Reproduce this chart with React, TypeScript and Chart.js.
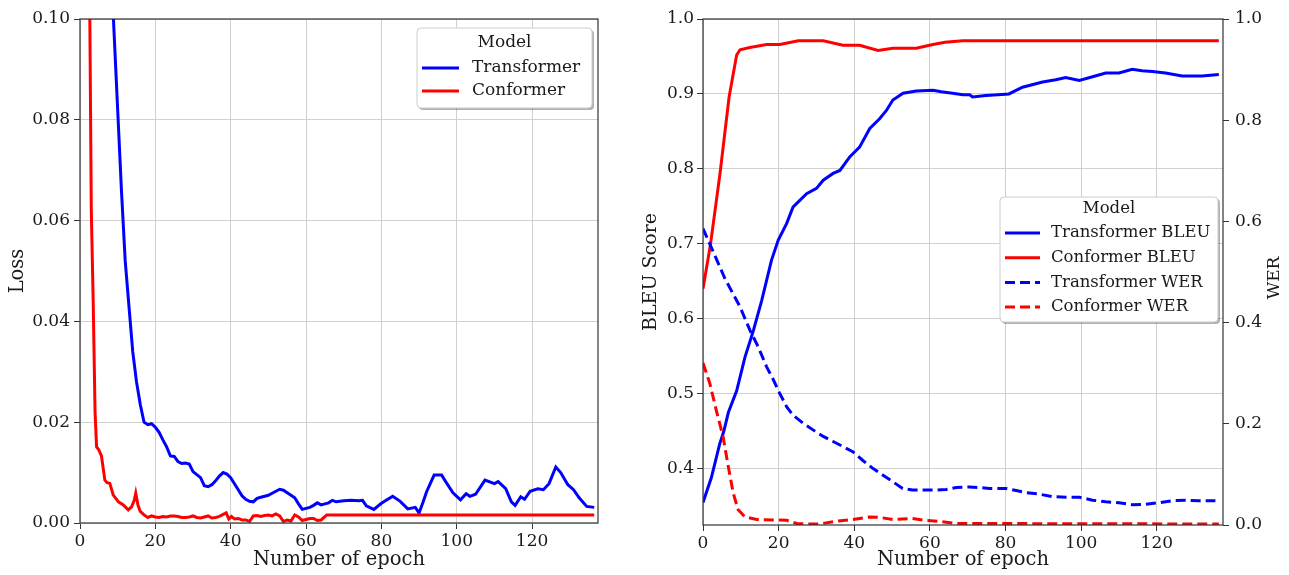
import React, { useEffect, useRef } from "react";
import { Chart, registerables } from "chart.js";

Chart.register(...registerables);

const FONT = "'DejaVu Serif', 'Liberation Serif', serif";

// ---------- Left chart: training loss ----------
const tfLossEpochs = [8, 9, 10, 11, 12, 13, 14, 15, 16, 17, 18, 19, 20, 21, 22, 23, 24, 25, 26, 27, 28, 29, 30, 31, 32, 33, 34, 35, 36, 37, 38, 39, 40, 41, 42, 43, 44, 45, 46, 47, 48, 50, 51, 52, 53, 54, 55, 56, 57, 58, 59, 60, 61, 62, 63, 64, 65, 66, 67, 68, 70, 72, 74, 75, 76, 78, 80, 83, 85, 87, 89, 90, 91, 92, 94, 96, 97.5, 99, 101, 102.5, 103.5, 105, 107.5, 110, 111, 113, 114.5, 115.5, 117, 118, 119.5, 121.5, 123, 124.5, 126.3, 127.6, 129.5, 131, 132.5, 134.5, 136.5];
const tfLoss = [0.115, 0.098, 0.082, 0.066, 0.052, 0.043, 0.034, 0.028, 0.0235, 0.02, 0.0195, 0.0197, 0.019, 0.018, 0.0165, 0.0151, 0.0133, 0.0132, 0.0122, 0.0118, 0.0119, 0.0117, 0.0102, 0.0096, 0.009, 0.0074, 0.0072, 0.0076, 0.0084, 0.0093, 0.01, 0.0097, 0.009, 0.0078, 0.0066, 0.0054, 0.0047, 0.0043, 0.0042, 0.0049, 0.0051, 0.0055, 0.0059, 0.0063, 0.0067, 0.0065, 0.006, 0.0055, 0.005, 0.0038, 0.0027, 0.0029, 0.0031, 0.0035, 0.004, 0.0036, 0.0038, 0.004, 0.0045, 0.0042, 0.0044, 0.0045, 0.0044, 0.0045, 0.0034, 0.0027, 0.0039, 0.0053, 0.0043, 0.0028, 0.0031, 0.002, 0.004, 0.0062, 0.0095, 0.0095, 0.0077, 0.006, 0.0046, 0.0058, 0.0053, 0.0057, 0.0085, 0.0078, 0.0082, 0.0068, 0.0042, 0.0035, 0.0052, 0.0047, 0.0063, 0.0068, 0.0066, 0.0078, 0.0111, 0.01, 0.0076, 0.0066, 0.005, 0.0033, 0.0031];

const cfLossEpochs = [1, 2, 3, 3.5, 4, 4.4, 5, 5.7, 6.6, 7.2, 7.9, 8.8, 10.2, 11.5, 12.8, 13.7, 14.4, 14.8, 15.4, 16, 17, 18, 19, 20, 21, 22, 23, 24, 25, 26, 27, 28, 29, 30, 31, 32, 33, 34, 35, 36, 37, 38.8, 39.5, 40.2, 41, 42, 43, 44, 45, 46, 47, 48, 49, 50, 51, 52, 53, 54, 55, 56, 57, 58, 59, 60, 61, 62, 63, 64, 65.5, 136.5];
const cfLoss = [0.35, 0.16, 0.062, 0.044, 0.022, 0.0151, 0.0145, 0.0133, 0.0085, 0.008, 0.0079, 0.0056, 0.0042, 0.0036, 0.0026, 0.0032, 0.0045, 0.0059, 0.0035, 0.0023, 0.0016, 0.0011, 0.0014, 0.0012, 0.0011, 0.0013, 0.0012, 0.0014, 0.0014, 0.0013, 0.0011, 0.0011, 0.0012, 0.0014, 0.0011, 0.001, 0.0012, 0.0014, 0.001, 0.0011, 0.0013, 0.002, 0.0008, 0.0013, 0.0008, 0.0009, 0.0006, 0.0006, 0.0003, 0.0014, 0.0015, 0.0013, 0.0015, 0.0016, 0.0014, 0.0018, 0.0014, 0.0003, 0.0006, 0.0004, 0.0016, 0.0012, 0.0005, 0.0007, 0.0009, 0.0009, 0.0005, 0.0006, 0.0016, 0.0016];

// ---------- Right chart: BLEU and WER ----------
const tfBleuEpochs = [0, 2.2, 4.4, 5.5, 6.7, 8.9, 11.1, 13.3, 15.5, 18.1, 19.9, 22.1, 23.8, 25.6, 27.4, 30, 31.8, 34.4, 36.2, 38.8, 41.4, 44.1, 46.7, 48.5, 50.2, 52.9, 56.4, 60.8, 63, 66, 68.7, 70.5, 71.3, 74.8, 78, 80.9, 84.5, 89.8, 93.3, 95.9, 99.5, 103, 106.5, 110, 113.5, 116.1, 118.8, 122.3, 126.7, 132, 136.4];
const tfBleu = [0.355, 0.388, 0.433, 0.45, 0.475, 0.504, 0.549, 0.584, 0.624, 0.678, 0.705, 0.727, 0.749, 0.758, 0.767, 0.774, 0.785, 0.794, 0.798, 0.816, 0.829, 0.854, 0.867, 0.878, 0.892, 0.901, 0.904, 0.905, 0.903, 0.901, 0.899, 0.899, 0.896, 0.898, 0.899, 0.9, 0.909, 0.916, 0.919, 0.922, 0.918, 0.923, 0.928, 0.928, 0.933, 0.931, 0.93, 0.928, 0.924, 0.924, 0.926];

const cfBleuEpochs = [0, 2, 4.5, 6.9, 8.9, 9.8, 12.4, 16.8, 20.3, 25.2, 31.8, 37, 41.4, 46.3, 50.2, 56.4, 60.8, 64, 68.7, 136.4];
const cfBleu = [0.64, 0.7, 0.794, 0.896, 0.952, 0.959, 0.962, 0.966, 0.966, 0.971, 0.971, 0.965, 0.965, 0.958, 0.961, 0.961, 0.966, 0.969, 0.971, 0.971];

const tfWerEpochs = [0, 5.8, 9.8, 12.4, 14.6, 16.8, 18.6, 20.3, 22.1, 23.8, 26.5, 29.1, 31.8, 34.4, 37, 39.6, 42.2, 44.9, 47.5, 50.1, 52.8, 55.4, 60.8, 64.3, 67, 70.4, 73.1, 75.7, 80.1, 82.8, 85.4, 88.9, 92.4, 96, 99.5, 103, 106.5, 110, 113.5, 117.1, 120.6, 124.1, 127.6, 131.1, 135.5];
const tfWer = [0.586, 0.487, 0.431, 0.385, 0.352, 0.313, 0.287, 0.26, 0.234, 0.217, 0.201, 0.188, 0.175, 0.165, 0.155, 0.145, 0.128, 0.112, 0.099, 0.086, 0.072, 0.069, 0.069, 0.07, 0.074, 0.075, 0.074, 0.072, 0.072, 0.068, 0.064, 0.061, 0.056, 0.055, 0.055, 0.049, 0.046, 0.044, 0.04, 0.041, 0.044, 0.048, 0.049, 0.048, 0.048];

const cfWerEpochs = [0, 1.8, 3.5, 5.3, 6.7, 8, 9.3, 11.1, 14.2, 18.6, 22.1, 24.8, 27.4, 30.9, 34.4, 39.6, 44, 46.7, 50.2, 55.4, 59, 62.5, 67, 136.4];
const cfWer = [0.32, 0.28, 0.227, 0.175, 0.115, 0.063, 0.03, 0.016, 0.011, 0.01, 0.0092, 0.003, 0.002, 0.002, 0.0066, 0.011, 0.016, 0.015, 0.011, 0.013, 0.009, 0.007, 0.003, 0.002];

// ---------- Ticks and labels ----------
const epochTicks = [0, 20, 40, 60, 80, 100, 120];
const lossTicks = [0, 0.02, 0.04, 0.06, 0.08, 0.1];
const bleuTicks = [0.4, 0.5, 0.6, 0.7, 0.8, 0.9, 1.0];
const werTicks = [0, 0.2, 0.4, 0.6, 0.8, 1.0];
const lossLabels = ["Transformer", "Conformer"];
const scoreLabels = ["Transformer BLEU", "Conformer BLEU", "Transformer WER", "Conformer WER"];

const BLUE = "#0000ff";
const RED = "#ff0000";
const GRID = "#d0d0d0";
const INK = "#1a1a1a";

function pts(xs: number[], ys: number[]) {
  return xs.map((x, i) => ({ x, y: ys[i] }));
}

const framePlugin = {
  id: "frame",
  afterDatasetsDraw(chart: any) {
    const { ctx, chartArea } = chart;
    const { left, top, right, bottom } = chartArea;
    ctx.save();
    ctx.strokeStyle = "#333";
    ctx.lineWidth = 1.2;
    ctx.strokeRect(left, top, right - left, bottom - top);
    ctx.restore();
  },
};

function roundRectPath(ctx: CanvasRenderingContext2D, x: number, y: number, w: number, h: number, r: number) {
  ctx.beginPath();
  ctx.moveTo(x + r, y);
  ctx.lineTo(x + w - r, y);
  ctx.arcTo(x + w, y, x + w, y + r, r);
  ctx.lineTo(x + w, y + h - r);
  ctx.arcTo(x + w, y + h, x + w - r, y + h, r);
  ctx.lineTo(x + r, y + h);
  ctx.arcTo(x, y + h, x, y + h - r, r);
  ctx.lineTo(x, y + r);
  ctx.arcTo(x, y, x + r, y, r);
  ctx.closePath();
}

const boxLegendPlugin = {
  id: "boxLegend",
  afterDraw(chart: any, _args: any, opts: any) {
    if (!opts || !opts.display) return;
    const { ctx, chartArea } = chart;
    const w = opts.width;
    const h = opts.height;
    const x = chartArea.right - opts.right - w;
    const y = chartArea.top + opts.top;
    ctx.save();
    roundRectPath(ctx, x + 2, y + 2, w, h, 4);
    ctx.fillStyle = "rgba(0,0,0,0.3)";
    ctx.fill();
    roundRectPath(ctx, x, y, w, h, 4);
    ctx.fillStyle = "#ffffff";
    ctx.fill();
    ctx.strokeStyle = "#cccccc";
    ctx.lineWidth = 1;
    ctx.stroke();
    ctx.font = `${opts.fontSize}px ${FONT}`;
    ctx.fillStyle = INK;
    ctx.textBaseline = "middle";
    ctx.textAlign = "center";
    ctx.fillText(opts.title, x + w / 2, y + opts.titleY);
    ctx.textAlign = "left";
    chart.data.datasets.forEach((ds: any, i: number) => {
      const ry = y + opts.firstRow + i * opts.rowGap;
      ctx.strokeStyle = ds.borderColor;
      ctx.lineWidth = ds.borderWidth;
      ctx.setLineDash(ds.borderDash || []);
      ctx.beginPath();
      ctx.moveTo(x + opts.swatchX, ry);
      ctx.lineTo(x + opts.swatchX + opts.swatchLen, ry);
      ctx.stroke();
      ctx.setLineDash([]);
      ctx.fillStyle = INK;
      ctx.fillText(ds.label, x + opts.textX, ry);
    });
    ctx.restore();
  },
};

const sideTitlePlugin = {
  id: "sideTitle",
  afterDraw(chart: any, _args: any, opts: any) {
    if (!opts || !opts.text) return;
    const { ctx, chartArea } = chart;
    ctx.save();
    ctx.translate(chartArea.right + opts.offset, (chartArea.top + chartArea.bottom) / 2 + opts.dy);
    ctx.rotate(-Math.PI / 2);
    ctx.font = `${opts.fontSize}px ${FONT}`;
    ctx.fillStyle = INK;
    ctx.textAlign = "center";
    ctx.textBaseline = "middle";
    ctx.fillText(opts.text, 0, 0);
    ctx.restore();
  },
};

function fixedTicks(values: number[]) {
  return (scale: any) => {
    scale.ticks = values.map((v) => ({ value: v }));
  };
}

function xAxis(height: number) {
  return {
    type: "linear" as const,
    min: 0,
    max: 137.5,
    afterBuildTicks: fixedTicks(epochTicks),
    afterFit: (s: any) => {
      s.height = height;
    },
    border: { display: false },
    grid: { color: GRID, lineWidth: 1, tickColor: "#333", tickLength: 6 },
    ticks: {
      font: { family: FONT, size: 17 },
      color: INK,
      padding: 2,
      maxRotation: 0,
      autoSkip: false,
      callback: (v: any) => String(v),
    },
    title: {
      display: true,
      text: "Number of epoch",
      font: { family: FONT, size: 19.5 },
      color: INK,
      padding: { top: 0, bottom: 3 },
    },
  };
}

function lineDs(label: string, data: any[], color: string, dashed: boolean, order: number, yAxisID = "y") {
  return {
    label,
    data,
    borderColor: color,
    backgroundColor: color,
    borderWidth: 3,
    borderDash: dashed ? [10, 5] : [],
    pointRadius: 0,
    tension: 0,
    fill: false,
    clip: 0,
    order,
    yAxisID,
  };
}

function LossChart() {
  const ref = useRef<HTMLCanvasElement | null>(null);
  useEffect(() => {
    if (!ref.current) return;
    const chart = new Chart(ref.current, {
      type: "line",
      data: {
        datasets: [
          lineDs(lossLabels[0], pts(tfLossEpochs, tfLoss), BLUE, false, 2),
          lineDs(lossLabels[1], pts(cfLossEpochs, cfLoss), RED, false, 1),
        ],
      },
      options: {
        animation: false,
        responsive: false,
        events: [],
        layout: { padding: { top: 19, right: 22, left: 0, bottom: 0 } },
        plugins: {
          legend: { display: false },
          tooltip: { enabled: false },
          boxLegend: {
            display: true,
            title: "Model",
            right: 6,
            top: 9,
            width: 175,
            height: 80,
            fontSize: 17,
            titleY: 15,
            firstRow: 40,
            rowGap: 23,
            swatchX: 5,
            swatchLen: 37,
            textX: 55,
          },
        } as any,
        scales: {
          x: xAxis(52),
          y: {
            type: "linear",
            min: 0,
            max: 0.1,
            afterBuildTicks: fixedTicks(lossTicks),
            afterFit: (s: any) => {
              s.width = 80;
            },
            border: { display: false },
            grid: { color: GRID, lineWidth: 1, tickColor: "#333", tickLength: 6 },
            ticks: {
              font: { family: FONT, size: 17 },
              color: INK,
              padding: 4,
              callback: (v: any) => Number(v).toFixed(2),
            },
            title: {
              display: true,
              text: "Loss",
              font: { family: FONT, size: 19.5 },
              color: INK,
              padding: { top: 6, bottom: 0 },
            },
          },
        },
      } as any,
      plugins: [framePlugin, boxLegendPlugin],
    });
    return () => chart.destroy();
  }, []);
  return (
    <canvas
      ref={ref}
      width={620}
      height={575}
      style={{ position: "absolute", left: 0, top: 0, width: 620, height: 575 }}
    />
  );
}

function ScoreChart() {
  const ref = useRef<HTMLCanvasElement | null>(null);
  useEffect(() => {
    if (!ref.current) return;
    const chart = new Chart(ref.current, {
      type: "line",
      data: {
        datasets: [
          lineDs(scoreLabels[0], pts(tfBleuEpochs, tfBleu), BLUE, false, 4, "y"),
          lineDs(scoreLabels[1], pts(cfBleuEpochs, cfBleu), RED, false, 3, "y"),
          lineDs(scoreLabels[2], pts(tfWerEpochs, tfWer), BLUE, true, 2, "y1"),
          lineDs(scoreLabels[3], pts(cfWerEpochs, cfWer), RED, true, 1, "y1"),
        ],
      },
      options: {
        animation: false,
        responsive: false,
        events: [],
        layout: { padding: { top: 19, right: 0, left: 0, bottom: 0 } },
        plugins: {
          legend: { display: false },
          tooltip: { enabled: false },
          boxLegend: {
            display: true,
            title: "Model",
            right: 5,
            top: 178,
            width: 218,
            height: 125,
            fontSize: 16.5,
            titleY: 12,
            firstRow: 36,
            rowGap: 24.7,
            swatchX: 5,
            swatchLen: 35,
            textX: 51,
          },
          sideTitle: { text: "WER", offset: 52, dy: 6, fontSize: 17 },
        } as any,
        scales: {
          x: xAxis(50),
          y: {
            type: "linear",
            position: "left",
            min: 0.325,
            max: 1.0,
            afterBuildTicks: fixedTicks(bleuTicks),
            afterFit: (s: any) => {
              s.width = 83;
            },
            border: { display: false },
            grid: { color: GRID, lineWidth: 1, tickColor: "#333", tickLength: 6 },
            ticks: {
              font: { family: FONT, size: 17 },
              color: INK,
              padding: 3,
              callback: (v: any) => Number(v).toFixed(1),
            },
            title: {
              display: true,
              text: "BLEU Score",
              font: { family: FONT, size: 19 },
              color: INK,
              padding: { top: 20, bottom: 0 },
            },
          },
          y1: {
            type: "linear",
            position: "right",
            min: 0,
            max: 1.0,
            afterBuildTicks: fixedTicks(werTicks),
            afterFit: (s: any) => {
              s.width = 66;
            },
            border: { display: false },
            grid: { drawOnChartArea: false, tickColor: "#333", tickLength: 6 },
            ticks: {
              font: { family: FONT, size: 17 },
              color: INK,
              padding: 6,
              callback: (v: any) => Number(v).toFixed(1),
            },
          },
        },
      } as any,
      plugins: [framePlugin, boxLegendPlugin, sideTitlePlugin],
    });
    return () => chart.destroy();
  }, []);
  return (
    <canvas
      ref={ref}
      width={669}
      height={575}
      style={{ position: "absolute", left: 620, top: 0, width: 669, height: 575 }}
    />
  );
}

export default function App() {
  return (
    <div style={{ position: "absolute", left: 0, top: 0, width: 1289, height: 575, background: "#ffffff" }}>
      <LossChart />
      <ScoreChart />
    </div>
  );
}
